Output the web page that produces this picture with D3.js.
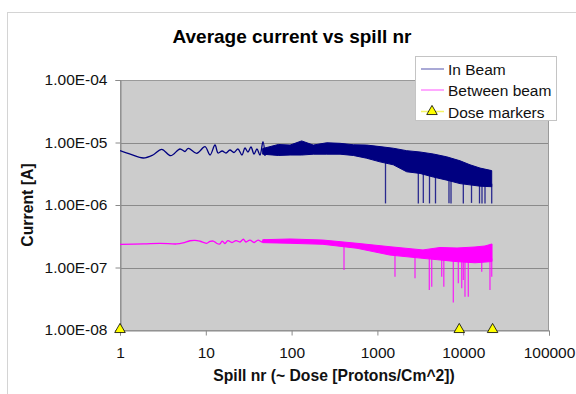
<!DOCTYPE html>
<html>
<head>
<meta charset="utf-8">
<script src="https://cdn.jsdelivr.net/npm/d3@7"></script>
<style>
  html, body { margin: 0; padding: 0; background: #fff; }
  svg { display: block; font-family: Arial, "Liberation Sans", sans-serif; }
</style>
</head>
<body>
<svg id="chart" width="576" height="394"></svg>
<script>
// ---------- data ----------
const chartTitle = "Average current vs spill nr";
const xTitle = "Spill nr (~ Dose [Protons/Cm^2])";
const yTitle = "Current [A]";
const seriesNames = ["In Beam", "Between beam", "Dose markers"];

const xTicks = [1, 10, 100, 1000, 10000, 100000];
const xTickLabels = ["1", "10", "100", "1000", "10000", "100000"];
const yTicks = [1e-8, 1e-7, 1e-6, 1e-5, 1e-4];
const yTickLabels = ["1.00E-08", "1.00E-07", "1.00E-06", "1.00E-05", "1.00E-04"];

// In Beam: early, individually visible part of the trace
const beamLineX = [1, 1.34, 1.87, 2.42, 3.06, 3.90, 5.00, 5.72, 6.25, 7.83, 9.79, 11.2, 12.8, 13.9, 15.5, 17.2, 19.1, 21.3, 23.7, 26.4, 28.6, 31.0, 33.6, 36.5, 39.5, 42.8, 46.4, 49.0];
const beamLineY = [7.40e-6, 6.43e-6, 5.65e-6, 6.31e-6, 7.78e-6, 6.15e-6, 7.87e-6, 7.18e-6, 8.07e-6, 6.71e-6, 8.57e-6, 6.31e-6, 9.12e-6, 6.79e-6, 7.31e-6, 6.79e-6, 7.59e-6, 6.92e-6, 7.87e-6, 6.31e-6, 8.17e-6, 7.05e-6, 8.47e-6, 6.55e-6, 7.87e-6, 6.31e-6, 1.03e-5, 6.08e-6];
// In Beam: dense noisy part, upper and lower envelope
const beamBandX = [46, 70, 96, 131, 179, 257, 367, 524, 750, 1072, 1532, 2195, 3138, 4485, 6424, 9180, 12000, 15700, 21490];
const beamBandHigh = [8.0e-6, 9.3e-6, 9.1e-6, 1.06e-5, 9.1e-6, 9.9e-6, 9.7e-6, 9.2e-6, 9.1e-6, 8.6e-6, 8.1e-6, 7.4e-6, 7.05e-6, 6.55e-6, 5.9e-6, 5.1e-6, 4.4e-6, 3.9e-6, 3.55e-6];
const beamBandLow = [6.5e-6, 6.2e-6, 6.3e-6, 6.3e-6, 6.5e-6, 6.5e-6, 6.5e-6, 6.2e-6, 5.6e-6, 4.9e-6, 4.4e-6, 3.4e-6, 3.2e-6, 2.8e-6, 2.5e-6, 2.2e-6, 2.1e-6, 2.0e-6, 1.96e-6];
// In Beam: isolated drops
const beamDipX = [1243, 2998, 3428, 4048, 4755, 6827, 7211, 10030, 12500, 15490, 16560, 17950, 21490];
const beamDipY = [1.06e-6, 1.06e-6, 1.08e-6, 1.06e-6, 1.06e-6, 1.07e-6, 1.06e-6, 1.06e-6, 1.08e-6, 1.06e-6, 1.06e-6, 1.06e-6, 1.06e-6];

// Between beam: early part of the trace
const gapLineX = [1, 1.87, 2.93, 4.58, 5.42, 6.54, 7.48, 8.56, 10.2, 11.2, 12.2, 13.5, 14.6, 15.5, 16.7, 18.1, 20.2, 22.5, 25.0, 27.4, 29.4, 32.7, 36.5, 40.6, 45.2, 49.0];
const gapLineY = [2.35e-7, 2.38e-7, 2.44e-7, 2.38e-7, 2.47e-7, 2.68e-7, 2.72e-7, 2.63e-7, 2.44e-7, 2.61e-7, 2.65e-7, 2.42e-7, 2.38e-7, 2.65e-7, 2.42e-7, 2.70e-7, 2.51e-7, 2.70e-7, 2.56e-7, 2.83e-7, 2.56e-7, 2.75e-7, 2.51e-7, 2.75e-7, 2.56e-7, 2.81e-7];
// Between beam: dense noisy part
const gapBandX = [46, 96, 232, 578, 1403, 3398, 5365, 8470, 13730, 17950, 21670];
const gapBandHigh = [2.78e-7, 2.86e-7, 2.75e-7, 2.44e-7, 2.15e-7, 1.91e-7, 2.09e-7, 2.05e-7, 2.13e-7, 2.21e-7, 2.38e-7];
const gapBandLow = [2.50e-7, 2.44e-7, 2.35e-7, 2.03e-7, 1.58e-7, 1.40e-7, 1.32e-7, 1.24e-7, 1.19e-7, 1.22e-7, 1.25e-7];
// Between beam: isolated drops
const gapDipX = [408, 1603, 2743, 4027, 4295, 5614, 5943, 7670, 8770, 9610, 10030, 10490, 11470, 16430, 20520, 21490];
const gapDipY = [9.12e-8, 7.13e-8, 6.72e-8, 4.37e-8, 4.93e-8, 7.13e-8, 4.93e-8, 2.75e-8, 5.59e-8, 4.65e-8, 6.31e-8, 3.41e-8, 3.41e-8, 8.57e-8, 4.37e-8, 7.13e-8];

// Dose markers
const doseX = [1, 9000, 22000];
const doseY = [1e-8, 1e-8, 1e-8];

// ---------- drawing ----------
const svg = d3.select("#chart");
const beamColor = "#000080";
const gapColor = "#ff00ff";
const pLeft = 120, pRight = 549, pTop = 80, pBottom = 330;
const fontFam = "Arial, 'Liberation Sans', sans-serif";

const x = d3.scaleLog().domain([1, 100000]).range([pLeft, pRight]);
const y = d3.scaleLog().domain([1e-8, 1e-4]).range([pBottom, pTop]);

// outer chart frame
svg.append("rect").attr("x", 7.5).attr("y", 12.5).attr("width", 600).attr("height", 400)
  .attr("fill", "#fff").attr("stroke", "#d4d4d4").attr("stroke-width", 1);

// title
svg.append("text").attr("x", 292).attr("y", 43).attr("text-anchor", "middle")
  .attr("font-size", 19).attr("font-weight", "bold").attr("fill", "#000").text(chartTitle);

// plot background
svg.append("rect").attr("x", pLeft).attr("y", pTop).attr("width", pRight - pLeft).attr("height", pBottom - pTop)
  .attr("fill", "#cccccc");

// gridlines
svg.append("g").selectAll("line").data(yTicks).join("line")
  .attr("x1", pLeft).attr("x2", pRight)
  .attr("y1", d => Math.round(y(d)) + 0.5).attr("y2", d => Math.round(y(d)) + 0.5)
  .attr("stroke", "#8a8a8a").attr("stroke-width", 1);

// plot border
svg.append("rect").attr("x", pLeft + 0.5).attr("y", pTop + 0.5).attr("width", pRight - pLeft - 1).attr("height", pBottom - pTop)
  .attr("fill", "none").attr("stroke", "#9a9a9a").attr("stroke-width", 1);

// axes
const yAxis = d3.axisLeft(y).tickValues(yTicks).tickFormat((d, i) => yTickLabels[i]).tickSize(5).tickPadding(8);
const yg = svg.append("g").attr("transform", `translate(${pLeft + 0.5},0)`).call(yAxis);
yg.select(".domain").attr("stroke", "#8a8a8a");
yg.selectAll(".tick line").attr("stroke", "#8a8a8a");
yg.selectAll("text").attr("font-size", 15.5).attr("fill", "#111").attr("font-family", fontFam);

const xAxis = d3.axisBottom(x).tickValues(xTicks).tickFormat((d, i) => xTickLabels[i]).tickSize(5).tickPadding(11);
const xg = svg.append("g").attr("transform", `translate(0,${pBottom + 0.5})`).call(xAxis);
xg.select(".domain").attr("stroke", "#8a8a8a");
xg.selectAll(".tick line").attr("stroke", "#8a8a8a");
xg.selectAll("text").attr("font-size", 15.5).attr("fill", "#111").attr("font-family", fontFam);

// axis titles
svg.append("text").attr("x", 334).attr("y", 381).attr("text-anchor", "middle")
  .attr("font-size", 15.7).attr("font-weight", "bold").attr("fill", "#111").text(xTitle);
svg.append("text").attr("transform", "translate(33,205) rotate(-90)").attr("text-anchor", "middle")
  .attr("font-size", 15.8).attr("font-weight", "bold").attr("fill", "#111").text(yTitle);

// clip
svg.append("clipPath").attr("id", "plotclip").append("rect")
  .attr("x", pLeft).attr("y", pTop).attr("width", pRight - pLeft).attr("height", pBottom - pTop);
const plot = svg.append("g").attr("clip-path", "url(#plotclip)");

function drawSeries(lineX, lineY, bandX, bandHigh, bandLow, dipX, dipY, color) {
  const g = plot.append("g");
  const lineData = lineX.map((v, i) => [v, lineY[i]]);
  g.append("path").datum(lineData)
    .attr("d", d3.line().curve(d3.curveCatmullRom).x(d => x(d[0])).y(d => y(d[1])))
    .attr("fill", "none").attr("stroke", color).attr("stroke-width", 1.3).attr("stroke-linejoin", "round");
  const bandData = bandX.map((v, i) => [v, bandHigh[i], bandLow[i]]);
  g.append("path").datum(bandData)
    .attr("d", d3.area().x(d => x(d[0])).y0(d => y(d[2])).y1(d => y(d[1])))
    .attr("fill", color).attr("stroke", color).attr("stroke-width", 1).attr("stroke-linejoin", "round");
  const lowAt = d3.scaleLog().domain(bandX).range(bandLow);
  const dipData = dipX.map((v, i) => [v, dipY[i]]);
  g.selectAll("line.dip").data(dipData).join("line").attr("class", "dip")
    .attr("x1", d => x(d[0])).attr("x2", d => x(d[0]))
    .attr("y1", d => y(lowAt(d[0])) - 3).attr("y2", d => y(d[1]))
    .attr("stroke", color).attr("stroke-width", 1.3).attr("stroke-opacity", 0.8);
}

drawSeries(beamLineX, beamLineY, beamBandX, beamBandHigh, beamBandLow, beamDipX, beamDipY, beamColor);
drawSeries(gapLineX, gapLineY, gapBandX, gapBandHigh, gapBandLow, gapDipX, gapDipY, gapColor);

// dose markers (not clipped)
const tri = d3.symbol().type(d3.symbolTriangle).size(48);
svg.append("g").selectAll("path").data(doseX.map((v, i) => [v, doseY[i]])).join("path")
  .attr("transform", d => `translate(${x(d[0])},${y(d[1]) - 0.5})`)
  .attr("d", tri).attr("fill", "#ffff00").attr("stroke", "#000").attr("stroke-width", 0.8);

// legend
const lg = svg.append("g");
lg.append("rect").attr("x", 415.5).attr("y", 56.5).attr("width", 141).attr("height", 64)
  .attr("fill", "#fff").attr("stroke", "#c4c4c4");
const legendColors = ["#8c8cc8", "#ff8cff", "#f4f466"];
const rowsY = [69, 90, 111.5];
seriesNames.forEach((name, i) => {
  lg.append("line").attr("x1", 421).attr("x2", 444).attr("y1", rowsY[i]).attr("y2", rowsY[i])
    .attr("stroke", legendColors[i]).attr("stroke-width", 1.5);
  lg.append("text").attr("x", 448).attr("y", rowsY[i] + 6).attr("font-size", 15.5).attr("fill", "#111")
    .attr("font-family", fontFam).text(name);
});
lg.append("path").attr("transform", `translate(432,${rowsY[2]})`).attr("d", tri)
  .attr("fill", "#ffff00").attr("stroke", "#000").attr("stroke-width", 0.8);
</script>
</body>
</html>
